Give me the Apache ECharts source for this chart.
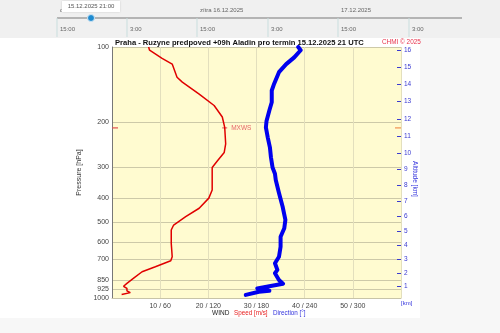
<!DOCTYPE html>
<html><head><meta charset="utf-8">
<script src="https://cdn.jsdelivr.net/npm/echarts@6/dist/echarts.min.js"></script>
<style>html,body{margin:0;padding:0;background:#f7f7f7;}#c{width:500px;height:333px;}</style>
</head><body><div id="c"></div>
<script>
// ---- data ----
const speedPressure = [100, 103, 111, 117, 132, 138, 154, 171, 190, 209, 243, 263, 284, 302, 328, 371, 400, 439, 474, 512, 536, 606, 685, 711, 751, 786, 834, 875, 898, 916, 936, 952, 962, 969];
const speedValues   = [7.6, 7.8, 10.4, 12.5, 13.5, 14.6, 18.1, 21.2, 22.9, 23.4, 23.6, 23.3, 21.9, 20.8, 20.8, 20.8, 20.1, 18.1, 15.3, 12.8, 12.3, 12.3, 12.5, 12.2, 9.0, 6.25, 4.5, 3.1, 2.4, 3.1, 3.1, 3.8, 4.1, 2.0];
const dirPressure = [100, 103, 110, 117, 126, 140, 149, 166, 179, 197, 209, 229, 251, 275, 302, 320, 339, 382, 432, 488, 527, 570, 625, 685, 727, 773, 797, 848, 877, 898, 916, 936, 944, 972];
const dirValues   = [232, 235, 227, 217, 208, 202, 199, 199, 196, 192.5, 191.7, 194, 196.7, 198, 200, 203, 204, 208, 212.5, 216, 214.6, 210, 210, 208, 203, 206, 203, 208, 213, 196, 181, 196, 183, 166.7];
const mxwsPressure = [210];
const mxwsSpeed = [23.4];
const pressureTicks = [100, 200, 300, 400, 500, 600, 700, 850, 925, 1000];
const altitudeTicksKm = [1, 2, 3, 4, 5, 6, 7, 8, 9, 10, 11, 12, 13, 14, 15, 16];
const speedTickLabels = [10, 20, 30, 40, 50];
const dirTickLabels = [60, 120, 180, 240, 300];
const timelineDays = ['dnes 15.12.2025', 'zítra 16.12.2025', '17.12.2025'];
const timelineHours = ['15:00', '3:00', '15:00', '3:00', '15:00', '3:00'];
const selectedTime = '15.12.2025 21:00';
const titleText = 'Praha - Ruzyne predpoved +09h Aladin pro termin 15.12.2025 21 UTC';

// standard atmosphere: altitude (km) -> pressure (hPa), for the altitude axis ticks
function kmToHpa(km) {
  const h = km * 1000;
  if (h <= 11000) return 1013.25 * Math.pow(1 - 2.25577e-5 * h, 5.25588);
  return 226.32 * Math.exp(-(h - 11000) / 6341.6);
}
const altPressures = altitudeTicksKm.map(kmToHpa);

const FF = 'Liberation Sans, Arial, sans-serif';
const chart = echarts.init(document.getElementById('c'), null, {renderer: 'canvas'});

const tickXs = [57, 127, 197, 268, 338, 409];
const graphics = [
  {type: 'rect', shape: {x: 0, y: 0, width: 500, height: 38}, style: {fill: '#f0f0f0'}, z: -10},
  {type: 'rect', shape: {x: 0, y: 38, width: 420, height: 280}, style: {fill: '#ffffff'}, z: -10},
  {type: 'line', shape: {x1: 57, y1: 18, x2: 462, y2: 18}, style: {stroke: '#a0a0a0', lineWidth: 1.5}},
];
tickXs.forEach((x, i) => {
  graphics.push({type: 'line', shape: {x1: x, y1: 18, x2: x, y2: 37}, style: {stroke: '#c9dede', lineWidth: 1}});
  graphics.push({type: 'text', x: x + 3, y: 29, style: {text: timelineHours[i], font: '6px ' + FF, fill: '#666', textVerticalAlign: 'middle'}});
});
[57, 197, 338].forEach((x, i) => {
  graphics.push({type: 'text', x: x + 3, y: 10, style: {text: timelineDays[i], font: '6px ' + FF, fill: '#666', textVerticalAlign: 'middle'}});
});
graphics.push(
  {type: 'rect', shape: {x: 62, y: 1, width: 58, height: 11}, style: {fill: '#ffffff', shadowBlur: 2, shadowColor: 'rgba(0,0,0,0.15)'}, z: 10},
  {type: 'text', x: 91, y: 6.5, z: 11, style: {text: selectedTime, font: '6px ' + FF, fill: '#555', textAlign: 'center', textVerticalAlign: 'middle'}},
  {type: 'circle', shape: {cx: 91, cy: 18, r: 3.5}, style: {fill: '#1f8bd0', stroke: '#cfe6f5', lineWidth: 1}, z: 11},
  {type: 'text', x: 115, y: 42.5, style: {text: titleText, font: 'bold 7.6px ' + FF, fill: '#111', textVerticalAlign: 'middle'}},
  {type: 'text', x: 382, y: 42.5, style: {text: 'CHMI © 2025', font: '6.4px ' + FF, fill: '#e8304a', textVerticalAlign: 'middle'}},
  {type: 'text', x: 212, y: 313, style: {text: 'WIND', font: '6.5px ' + FF, fill: '#222', textVerticalAlign: 'middle'}},
  {type: 'text', x: 234, y: 313, style: {text: 'Speed [m/s]', font: '6.3px ' + FF, fill: '#e82020', textVerticalAlign: 'middle'}},
  {type: 'text', x: 273, y: 313, style: {text: 'Direction [°]', font: '6.3px ' + FF, fill: '#3333dd', textVerticalAlign: 'middle'}},
  {type: 'text', x: 401, y: 303, style: {text: '[km]', font: '6px ' + FF, fill: '#3333dd', textVerticalAlign: 'middle'}},
  {type: 'text', x: 415, y: 179, rotation: -Math.PI / 2, style: {text: 'Altitude [km]', font: '6.5px ' + FF, fill: '#3333dd', textAlign: 'center', textVerticalAlign: 'middle'}}
);

chart.setOption({
  animation: false,
  backgroundColor: 'transparent',
  graphic: graphics,
  grid: {left: 112, top: 47, right: 99, bottom: 35, show: true, backgroundColor: '#fffbd0', borderWidth: 0},
  xAxis: [
    {type: 'value', min: 0, max: 60, show: false},
    {type: 'value', min: 0, max: 360, interval: 60, position: 'bottom',
     axisLine: {show: true, onZero: false, lineStyle: {color: '#c8c4a8'}},
     axisTick: {show: false},
     axisLabel: {fontSize: 7, fontFamily: FF, color: '#444', margin: 5,
       formatter: v => { const i = dirTickLabels.indexOf(v); return i < 0 ? '' : speedTickLabels[i] + ' / ' + dirTickLabels[i]; }},
     splitLine: {show: true, lineStyle: {color: '#e3dfbd', width: 1}}}
  ],
  yAxis: [
    {type: 'log', logBase: 10, min: 100, max: 1000, inverse: true, position: 'left',
     axisLine: {show: true, onZero: false, lineStyle: {color: '#777'}},
     axisTick: {show: false, customValues: pressureTicks},
     axisLabel: {customValues: pressureTicks, fontSize: 7, fontFamily: FF, color: '#444', margin: 3, formatter: v => String(Math.round(v))},
     splitLine: {show: true, lineStyle: {color: '#cdc9a8', width: 1}},
     name: 'Pressure [hPa]', nameLocation: 'middle', nameGap: 18, nameRotate: 90,
     nameTextStyle: {fontSize: 7, fontFamily: FF, color: '#333'}},
    {type: 'log', logBase: 10, min: 100, max: 1000, inverse: true, position: 'right',
     axisLine: {show: false, onZero: false},
     axisTick: {show: true, inside: true, length: 4, customValues: altPressures, lineStyle: {color: '#3a3ad0'}},
     axisLabel: {customValues: altPressures, fontSize: 6.5, fontFamily: FF, color: '#3a3ad0', margin: 3,
       formatter: v => { let b = 0; altPressures.forEach((p, i) => { if (Math.abs(p - v) < Math.abs(altPressures[b] - v)) b = i; }); return String(altitudeTicksKm[b]); }},
     splitLine: {show: false}}
  ],
  series: [
    {type: 'line', name: 'Direction', xAxisIndex: 1, yAxisIndex: 0, showSymbol: false, silent: true,
     data: dirPressure.map((p, i) => [dirValues[i], p]),
     lineStyle: {color: '#0000ee', width: 4, join: 'round', cap: 'round'}},
    {type: 'line', name: 'Speed', xAxisIndex: 0, yAxisIndex: 0, showSymbol: false, silent: true,
     data: speedPressure.map((p, i) => [speedValues[i], p]),
     lineStyle: {color: '#e00000', width: 1.5}},
    {type: 'scatter', xAxisIndex: 0, yAxisIndex: 0, silent: true, symbol: 'rect', symbolSize: [5, 1.2],
     itemStyle: {color: '#e04050'},
     label: {show: true, formatter: 'MXWS', position: 'right', distance: 4, fontSize: 6.5, fontFamily: FF, color: '#e04050'},
     data: mxwsPressure.map((p, i) => [mxwsSpeed[i], p])},
    {type: 'scatter', xAxisIndex: 1, yAxisIndex: 0, silent: true, symbol: 'rect', symbolSize: [6, 1.5], clip: false,
     data: [
       {value: [0, mxwsPressure[0]], symbolOffset: [3, 0], itemStyle: {color: '#e05050'}},
       {value: [360, mxwsPressure[0]], symbolOffset: [-3, 0], itemStyle: {color: '#f09050'}}
     ]}
  ]
});
</script></body></html>
